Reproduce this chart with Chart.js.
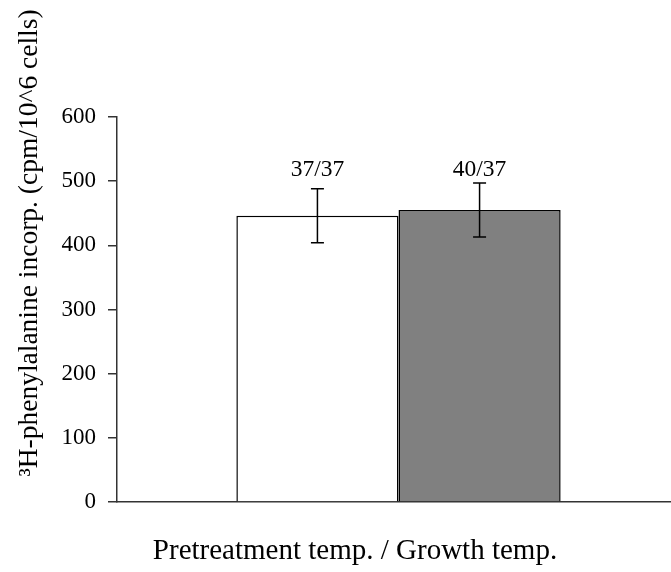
<!DOCTYPE html>
<html>
<head>
<meta charset="utf-8">
<script src="https://cdn.jsdelivr.net/npm/chart.js@4"></script>
<style>
  html, body { margin: 0; padding: 0; background: #fff; overflow: hidden; width: 671px; height: 572px; }
  canvas { display: block; }
</style>
</head>
<body>
<canvas id="c" width="680" height="572"></canvas>
<script>
// ---- data ----
const categories = [''];
const seriesNames = ['37/37', '40/37'];
const means = [446, 455];
const errors = [42, 42];
const seriesColors = ['#ffffff', '#808080'];
const yTicks = [0, 100, 200, 300, 400, 500, 600];
const labelValue = 510;
const yTitle = '\u00B3H-phenylalanine incorp. (cpm/10^6 cells)';
const xTitle = 'Pretreatment temp. / Growth temp.';

const FONT = '"Liberation Serif", "Times New Roman", serif';

const overlay = {
  id: 'overlay',
  afterDatasetsDraw(chart) {
    const ctx = chart.ctx;
    const y = chart.scales.y;
    ctx.save();
    chart.data.datasets.forEach((ds, i) => {
      const meta = chart.getDatasetMeta(i);
      meta.data.forEach((bar, j) => {
        const x = bar.x;
        const v = ds.data[j];
        const e = ds.err[j];
        const yt = y.getPixelForValue(v + e);
        const yb = y.getPixelForValue(v - e);
        ctx.strokeStyle = '#000';
        ctx.lineWidth = 1.5;
        ctx.beginPath();
        ctx.moveTo(x, yt); ctx.lineTo(x, yb);
        ctx.moveTo(x - 6.5, yt); ctx.lineTo(x + 6.5, yt);
        ctx.moveTo(x - 6.5, yb); ctx.lineTo(x + 6.5, yb);
        ctx.stroke();
        ctx.fillStyle = '#000';
        ctx.font = '23.5px ' + FONT;
        ctx.textAlign = 'center';
        ctx.textBaseline = 'alphabetic';
        ctx.fillText(ds.label, x, y.getPixelForValue(labelValue) + 1);
      });
    });
    // axis titles
    ctx.fillStyle = '#000';
    ctx.textAlign = 'center';
    ctx.textBaseline = 'middle';
    ctx.font = '27.5px ' + FONT;
    ctx.save();
    ctx.translate(30, 243);
    ctx.rotate(-Math.PI / 2);
    ctx.fillText(yTitle, 0, 0);
    ctx.restore();
    ctx.font = '29px ' + FONT;
    ctx.textBaseline = 'alphabetic';
    ctx.fillText(xTitle, 355, 559);
    ctx.restore();
  }
};

new Chart(document.getElementById('c'), {
  type: 'bar',
  data: {
    labels: categories,
    datasets: seriesNames.map((n, i) => ({
      label: n,
      data: [means[i]],
      err: [errors[i]],
      backgroundColor: seriesColors[i],
      borderColor: '#000',
      borderWidth: 1.5,
      borderSkipped: 'bottom',
      categoryPercentage: 0.576,
      barPercentage: 1.0
    }))
  },
  options: {
    responsive: false,
    animation: false,
    devicePixelRatio: 1,
    layout: { padding: { left: 0, right: 0, top: 117, bottom: 70 } },
    plugins: { legend: { display: false }, tooltip: { enabled: false } },
    scales: {
      x: {
        ticks: { display: false },
        grid: { display: false, drawTicks: false },
        border: { display: true, color: '#333', width: 1.5 },
        afterFit(s) { s.height = 0; }
      },
      y: {
        min: 0, max: 600,
        afterBuildTicks(s) { s.ticks = yTicks.map(v => ({ value: v })); },
        ticks: { color: '#000', font: { family: FONT, size: 23 }, padding: 12 },
        grid: { drawOnChartArea: false, drawTicks: true, tickLength: 9, color: '#333', lineWidth: 1.5 },
        border: { display: true, color: '#333', width: 1.5 },
        afterFit(s) { s.width = 117; }
      }
    }
  },
  plugins: [overlay]
});
</script>
</body>
</html>
